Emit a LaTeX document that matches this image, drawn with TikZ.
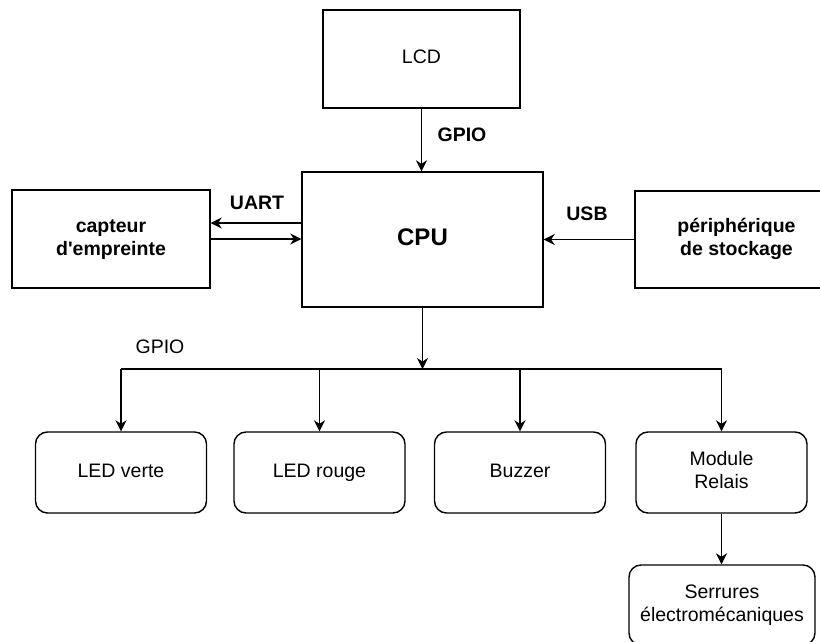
\documentclass[tikz,border=0pt]{standalone}
\usepackage{fontspec}
\setmainfont{Liberation Sans}[Ligatures=TeXOff]
\usetikzlibrary{arrows.meta}
\begin{document}
\begin{tikzpicture}[x=1pt,y=-1pt,
  line width=1.4pt,
  txt/.style={font=\fontsize{19.5}{23}\selectfont, align=center},
  btxt/.style={font=\bfseries\fontsize{19.5}{23}\selectfont, align=center},
  sqbox/.style={draw, inner sep=0pt, minimum width=#1},
  rbox/.style={draw, rounded corners=12pt, inner sep=0pt, minimum width=171pt, minimum height=81pt, txt},
  arr/.style={-{Stealth[length=11pt,width=11pt,inset=3.5pt]}},
  lbl/.style={inner sep=0pt}
]
\useasboundingbox (0,0) rectangle (820,642);
\clip (0,0) rectangle (820,642);

% top, centre and side blocks
\node[sqbox=197pt, minimum height=98pt, txt] (lcd) at (421.5,59) {\strut LCD};
\node[sqbox=241pt, minimum height=135pt, font=\bfseries\fontsize{24}{28}\selectfont] (cpu) at (422.5,239.5) {\strut CPU};
\node[sqbox=198pt, minimum height=98pt, btxt] (cap) at (111,239) {\strut capteur\\\strut d'empreinte};
\node[sqbox=203pt, minimum height=97pt, btxt] (per) at (736.5,239.5) {\strut périphérique\\\strut de stockage};

% GPIO outputs
\node[rbox] (ledv) at (121,472.5) {\strut LED verte};
\node[rbox] (ledr) at (319.5,472.5) {\strut LED rouge};
\node[rbox] (buz) at (520,472.5) {\strut Buzzer};
\node[rbox] (rel) at (721.5,472.5) {\strut Module\\\strut Relais};
\node[rbox, minimum width=186pt, minimum height=80pt] (serr) at (722,605) {\strut Serrures\\\strut électromécaniques};

% links to the CPU
\draw[arr] (lcd.south) -- (lcd.south |- cpu.north);
\node[lbl, btxt] (gpiotop) at (462,135) {GPIO};

\draw[arr] ([yshift=16.5pt]cpu.west) -- ([yshift=16.5pt]cpu.west -| cap.east);
\draw[arr] (cap.east) -- (cap.east -| cpu.west);
\node[lbl, btxt] (uart) at (257,203) {UART};

\draw[arr] (per.west) -- (per.west -| cpu.east);
\node[lbl, btxt] (usb) at (587,214) {USB};

% GPIO bus
\coordinate (bus) at (422,369);
\draw[arr] (cpu.south) -- (cpu.south |- bus);
\draw (ledv.north |- bus) -- (rel.north |- bus);
\foreach \n in {ledv,ledr,buz,rel}
  \draw[arr] (\n.north |- bus) -- (\n.north);
\node[lbl, txt] (gpiobus) at (160,347) {GPIO};

\draw[arr] (rel.south) -- (rel.south |- serr.north);
\end{tikzpicture}
\end{document}
